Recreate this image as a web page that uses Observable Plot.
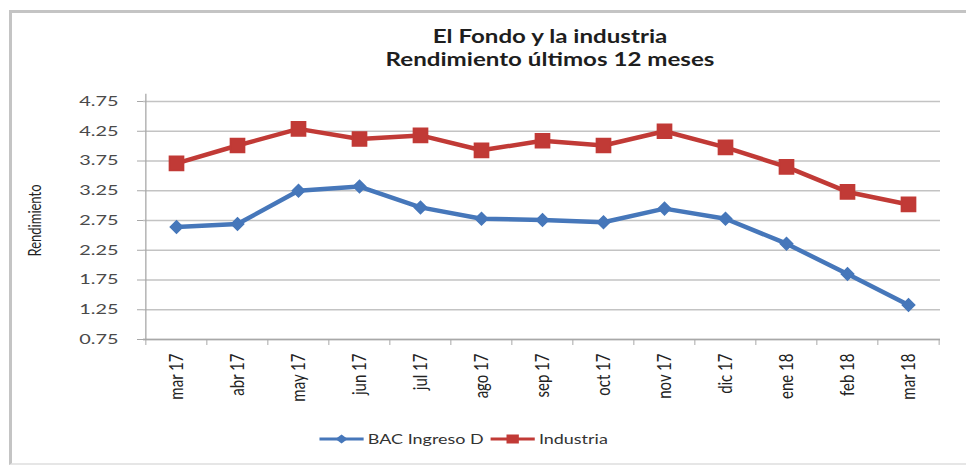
<!DOCTYPE html>
<html>
<head>
<meta charset="utf-8">
<script src="https://cdn.jsdelivr.net/npm/d3@7"></script>
<script src="https://cdn.jsdelivr.net/npm/@observablehq/plot@0.6"></script>
<style>
  body { margin: 0; background: #fff; }
  #wrap { position: relative; width: 966px; height: 466px; overflow: hidden; font-family: Lato, "Open Sans", sans-serif; color: #222; }
  #border { position: absolute; left: 9px; top: 10px; width: 1000px; height: 450px;
            border-left: 3px solid #c4c4c4; border-top: 3px solid #c4c4c4; border-bottom: 2px solid #e6e6e6; }
  #chart { position: absolute; left: 0; top: 0; }
  #title { position: absolute; left: 300px; width: 500px; top: 25px; text-align: center;
           font-weight: bold; font-size: 18px; line-height: 23px; color: #1e1e1e;
           transform: scaleX(1.34); transform-origin: 50% 50%; }
  #legend { position: absolute; top: 431px; left: 0; width: 926px; display: flex; justify-content: center;
            align-items: center; font-size: 13px; color: #333;
            transform: scaleX(1.38); transform-origin: 50% 50%; }
  #legend .item { display: flex; align-items: center; margin: 0 2px; }
  #legend svg { margin-right: 2px; }
</style>
</head>
<body>
<div id="wrap">
  <div id="border"></div>
  <div id="chart"></div>
  <div id="title">El Fondo y la industria<br>Rendimiento últimos 12 meses</div>
  <div id="legend"></div>
</div>
<script>
const months = ["mar 17","abr 17","may 17","jun 17","jul 17","ago 17","sep 17","oct 17","nov 17","dic 17","ene 18","feb 18","mar 18"];
const bac = [2.64, 2.69, 3.25, 3.32, 2.97, 2.78, 2.76, 2.72, 2.95, 2.78, 2.36, 1.85, 1.33];
const industria = [3.71, 4.01, 4.29, 4.12, 4.18, 3.93, 4.09, 4.01, 4.25, 3.98, 3.65, 3.23, 3.02];
const seriesNames = ["BAC Ingreso D", "Industria"];
const seriesColors = ["#4677ba", "#c13a36"];
const yTicks = [0.75, 1.25, 1.75, 2.25, 2.75, 3.25, 3.75, 4.25, 4.75];
const yLabel = "Rendimiento";

const bacData = months.map((m, i) => ({month: m, value: bac[i], series: seriesNames[0]}));
const indData = months.map((m, i) => ({month: m, value: industria[i], series: seriesNames[1]}));

const W = 966, H = 466, mL = 143, mR = 26, mT = 101, mB = 127;
const step = (W - mL - mR) / months.length;
const axisColor = "#a8a8a8";

const chart = Plot.plot({
  width: W, height: H,
  marginLeft: mL, marginRight: mR, marginTop: mT, marginBottom: mB,
  style: {fontFamily: "Lato, 'Open Sans', sans-serif", fontSize: "13px", color: "#333", background: "transparent"},
  x: {type: "point", domain: months, padding: 0.5},
  y: {domain: [0.75, 4.75]},
  marks: [
    Plot.ruleY(yTicks, {stroke: "#c3c3c3", strokeWidth: 1.3}),
    Plot.ruleY([yTicks[0]], {stroke: axisColor, strokeWidth: 1.3}),
    Plot.ruleX([months[0]], {dx: -step / 2, y1: yTicks[0], y2: 4.87, stroke: axisColor, strokeWidth: 1.3}),
    Plot.axisY({ticks: yTicks, tickFormat: d3.format(".2f"), tickSize: 6, tickPadding: 19, stroke: axisColor, label: null, fontSize: 14, fill: "#4a4a4a"}),
    Plot.axisX({text: null, tickSize: 6, dx: -step / 2, stroke: axisColor, label: null}),
    Plot.ruleX([months[months.length - 1]], {dx: step / 2, y1: yTicks[0], y2: 0.65, stroke: axisColor}),
    Plot.axisX({tickSize: 0, tickRotate: -90, tickPadding: 14, label: null, fontSize: 15, fill: "#222"}),
    Plot.text([yLabel], {frameAnchor: "left", textAnchor: "middle", dx: -108, rotate: -90, fontSize: 13, fill: "#222"}),
    Plot.line(bacData, {x: "month", y: "value", stroke: seriesColors[0], strokeWidth: 4.5, strokeLinejoin: "round"}),
    Plot.line(indData, {x: "month", y: "value", stroke: seriesColors[1], strokeWidth: 4.5, strokeLinejoin: "round"}),
    Plot.dot(bacData, {x: "month", y: "value", symbol: "diamond2", fill: seriesColors[0], stroke: seriesColors[0], r: 5.6}),
    Plot.dot(indData, {x: "month", y: "value", symbol: "square", fill: seriesColors[1], stroke: seriesColors[1], r: 8})
  ]
});
document.getElementById("chart").appendChild(chart);

// The reference image is horizontally stretched: widen the horizontal glyphs to match.
function stretch(selector, sx, sy) {
  d3.select(chart).selectAll(selector).each(function () {
    const t = this.getAttribute("transform");
    if (t) {
      this.setAttribute("transform", t + ` scale(${sx},${sy})`);
    } else {
      const x = +this.getAttribute("x") || 0, y = +this.getAttribute("y") || 0;
      this.removeAttribute("x"); this.removeAttribute("y");
      this.setAttribute("transform", `translate(${x},${y}) scale(${sx},${sy})`);
    }
  });
}
stretch('g[aria-label="y-axis tick label"] text', 1.42, 1);
stretch('g[aria-label="x-axis tick label"] text', 1, 1.3);
stretch('g[aria-label="text"] text', 1, 1.3);

// Legend
const legend = d3.select("#legend");
seriesNames.forEach((name, i) => {
  const item = legend.append("div").attr("class", "item");
  const svg = item.append("svg").attr("width", 34).attr("height", 14);
  svg.append("line").attr("x1", 1).attr("x2", 33).attr("y1", 7).attr("y2", 7)
     .attr("stroke", seriesColors[i]).attr("stroke-width", 3);
  const sym = i === 0 ? d3.symbolDiamond2 : d3.symbolSquare;
  svg.append("path").attr("transform", "translate(17,7)")
     .attr("d", d3.symbol(sym, i === 0 ? 50 : 80)())
     .attr("fill", seriesColors[i]);
  item.append("span").text(name);
});
</script>
</body>
</html>
